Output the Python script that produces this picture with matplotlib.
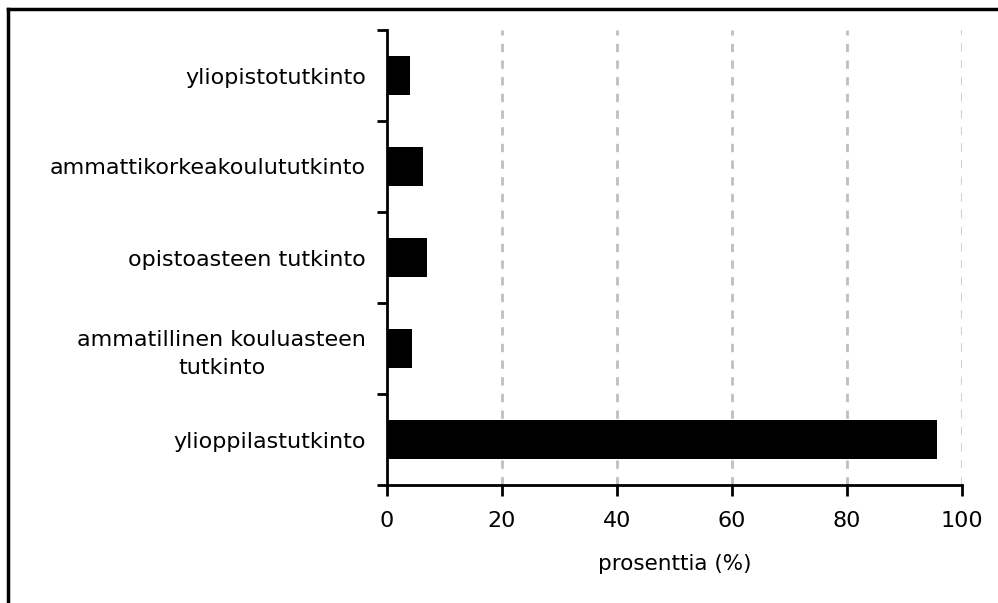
import matplotlib.pyplot as plt
from matplotlib.lines import Line2D

categories = ['ylioppilastutkinto', 'ammatillinen kouluasteen\ntutkinto',
              'opistoasteen tutkinto', 'ammattikorkeakoulututkinto',
              'yliopistotutkinto']
values = [95.7, 4.4, 6.9, 6.3, 4.0]
xticks = [0, 20, 40, 60, 80, 100]

fig = plt.figure(figsize=(9.98, 6.03), dpi=100)
ax = fig.add_axes([387/998, (603-485)/603, (962-387)/998, (485-30)/603])

ax.barh(range(len(categories)), values, height=0.42, color='black', zorder=3)

# grid lines, the last one at 100 is lighter
for x in xticks[1:-1]:
    ax.axvline(x, color='#bfbfbf', lw=2, ls=(0, (3, 3)), zorder=1)
ax.axvline(100, color='#d0d0d0', lw=1.5, ls=(0, (4, 4)), zorder=1)

ax.set_xlim(0, 100)
ax.set_ylim(-0.5, len(categories) - 0.5)
ax.set_xticks(xticks)
ax.set_yticks(range(len(categories)))
ax.set_yticklabels(categories, ha='right', multialignment='center')
for lab in ax.get_yticklabels():
    lab.set_linespacing(1.45)
ax.set_yticks([i - 0.5 for i in range(len(categories) + 1)], minor=True)
ax.tick_params(axis='y', which='major', length=0, pad=15, labelsize=16)
ax.tick_params(axis='y', which='minor', length=7, width=2, direction='out')
ax.tick_params(axis='x', length=8, width=2, direction='out', pad=11, labelsize=16)
ax.set_xlabel('prosenttia (%)', fontsize=15.5, labelpad=16)

for s in ['top', 'right']:
    ax.spines[s].set_visible(False)
for s in ['left', 'bottom']:
    ax.spines[s].set_linewidth(2)

# outer frame (only top and left edges fall inside the picture)
fig.add_artist(Line2D([8/998, 8/998], [0, 1 - 9/603], transform=fig.transFigure, color='black', lw=2.5))
fig.add_artist(Line2D([8/998, 1], [1 - 9/603, 1 - 9/603], transform=fig.transFigure, color='black', lw=2.5))

fig.savefig('out.png', dpi=100)
